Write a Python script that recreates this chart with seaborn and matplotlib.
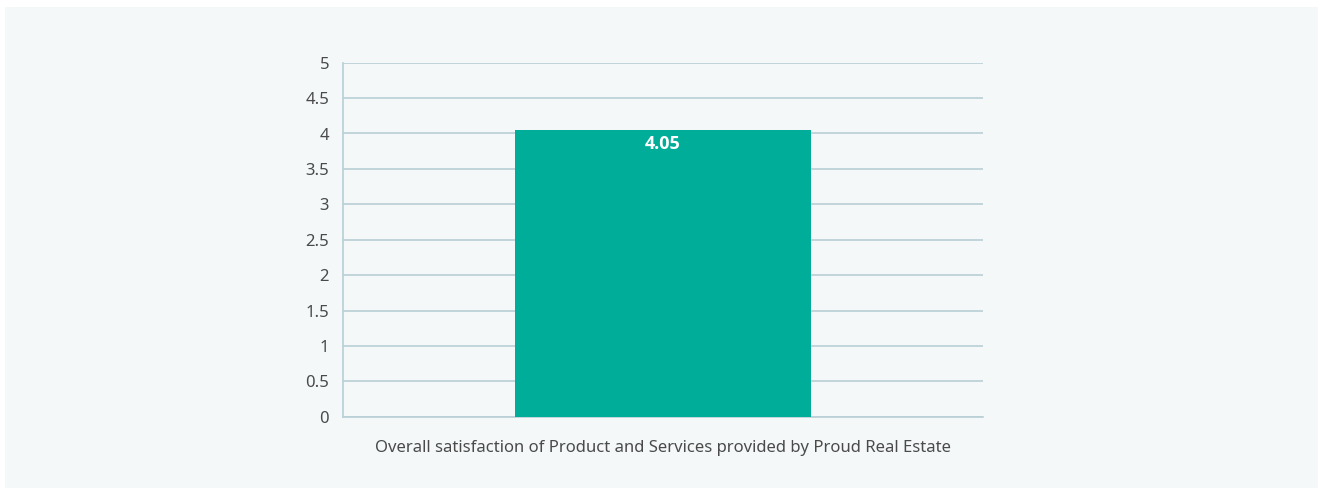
import pandas as pd
import seaborn as sns
import matplotlib.pyplot as plt
from matplotlib.patches import Rectangle

# chart data
categories = ['Overall satisfaction of Product and Services provided by Proud Real Estate']
scores = [4.05]
y_ticks = [0, 0.5, 1, 1.5, 2, 2.5, 3, 3.5, 4, 4.5, 5]
y_tick_labels = ['0', '0.5', '1', '1.5', '2', '2.5', '3', '3.5', '4', '4.5', '5']

df = pd.DataFrame({'category': categories, 'score': scores})

sns.set_style('white')
plt.rcParams['font.family'] = ['Noto Sans', 'DejaVu Sans']

panel = '#f4f8f9'
grid_col = '#b8cfd5'
bar_col = '#00ad98'
text_col = '#4a4a4a'

fig = plt.figure(figsize=(13.23, 4.9), dpi=100)
fig.patch.set_facecolor('white')
# light panel behind the chart
fig.patches.append(Rectangle((5 / 1323, 2 / 490), 1313 / 1323, 481 / 490,
                             transform=fig.transFigure, facecolor=panel,
                             edgecolor='none', zorder=-10))

ax = fig.add_axes([343 / 1323, 73.3 / 490, 640 / 1323, 354 / 490])
ax.set_zorder(1)
ax.patch.set_alpha(0)

sns.barplot(data=df, x='category', y='score', color=bar_col, width=0.462,
            saturation=1, linewidth=0, ax=ax, zorder=3)

ax.set_xlim(-0.5, 0.5)
ax.set_ylim(0, 5)
ax.set_yticks(y_ticks)
ax.set_yticklabels(y_tick_labels)
ax.yaxis.grid(True, color=grid_col, linewidth=1.2, zorder=0)
ax.set_axisbelow(True)

for side in ['top', 'right']:
    ax.spines[side].set_visible(False)
for side in ['left', 'bottom']:
    ax.spines[side].set_color(grid_col)
    ax.spines[side].set_linewidth(1.2)

ax.tick_params(axis='y', length=4, width=1.2, color=grid_col, pad=6,
               labelsize=12, labelcolor=text_col)
ax.tick_params(axis='x', length=0, pad=17, labelsize=12, labelcolor=text_col)
ax.set_xlabel('')
ax.set_ylabel('')

# value label inside the bar
for i, v in enumerate(scores):
    ax.text(i, v - 0.07, f'{v:.2f}', ha='center', va='top', color='white',
            fontsize=13, fontweight='bold', family=['Open Sans', 'DejaVu Sans'],
            zorder=4)

plt.savefig('out.png', dpi=100, facecolor=fig.get_facecolor())
